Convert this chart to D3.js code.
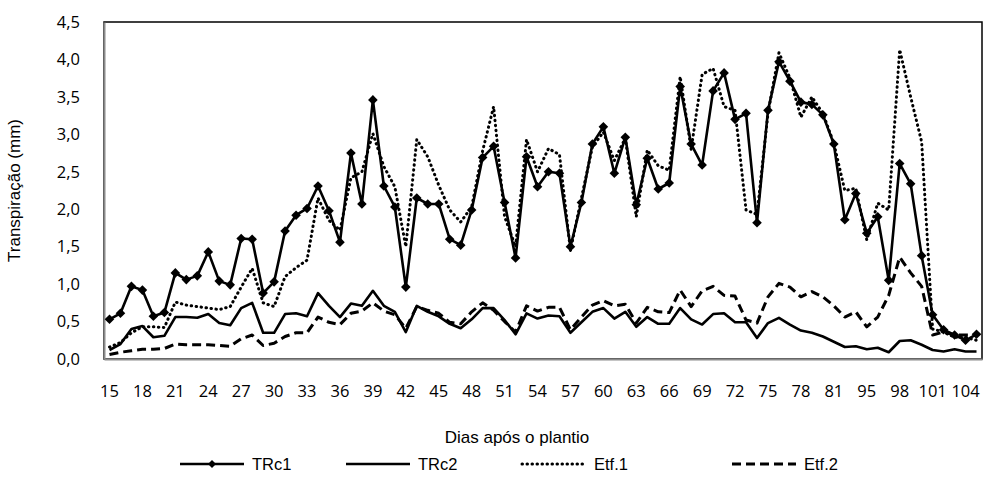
<!DOCTYPE html>
<html>
<head>
<meta charset="utf-8">
<script src="https://cdn.jsdelivr.net/npm/d3@7"></script>
<style>
  body { margin: 0; background: #fff; }
  svg { display: block; }
  .tick text { font-family: "Open Sans", Carlito, Calibri, sans-serif; font-size: 16.5px; fill: #000; }
  .ttl { font-family: "Liberation Sans", Arial, sans-serif; font-size: 17px; fill: #000; }
  .leg { font-family: "Liberation Sans", Arial, sans-serif; font-size: 16.5px; fill: #000; }
</style>
</head>
<body>
<svg width="983" height="482"></svg>
<script>
// dias apos o plantio (eixo de categorias)
const days = [15,16,17,18,19,20,21,22,23,24,25,26,27,28,29,30,31,32,33,34,35,36,37,38,39,40,
  41,42,43,44,45,46,47,48,49,50,51,52,53,54,55,56,57,58,59,60,61,62,63,64,65,66,67,68,69,70,
  71,72,73,74,75,76,77,78,79,80,81,84,89,95,96,97,98,99,100,101,102,103,104,105]

const trc1 = [0.53,0.61,0.97,0.92,0.57,0.62,1.15,1.06,1.11,1.43,1.04,0.99,1.61,1.60,0.88,1.03,
  1.71,1.92,2.01,2.31,1.98,1.56,2.75,2.07,3.46,2.31,2.03,0.96,2.15,2.07,2.07,1.60,1.52,1.99,
  2.69,2.84,2.09,1.35,2.70,2.30,2.50,2.48,1.50,2.09,2.87,3.10,2.48,2.96,2.06,2.68,2.27,2.35,
  3.64,2.87,2.59,3.58,3.82,3.20,3.28,1.82,3.32,3.97,3.71,3.43,3.40,3.26,2.87,1.86,2.21,1.68,
  1.90,1.05,2.61,2.34,1.38,0.59,0.39,0.32,0.25,0.33]

const trc2 = [0.12,0.20,0.40,0.44,0.29,0.31,0.56,0.56,0.55,0.60,0.48,0.45,0.68,0.75,0.35,0.35,
  0.60,0.61,0.57,0.88,0.71,0.56,0.74,0.71,0.91,0.71,0.63,0.36,0.71,0.63,0.57,0.47,0.41,0.53,
  0.68,0.68,0.52,0.33,0.61,0.54,0.58,0.57,0.35,0.49,0.63,0.68,0.54,0.63,0.43,0.56,0.47,0.47,
  0.68,0.53,0.46,0.60,0.61,0.49,0.49,0.28,0.48,0.55,0.46,0.38,0.35,0.30,0.23,0.16,0.17,0.13,
  0.15,0.09,0.24,0.25,0.19,0.12,0.10,0.13,0.10,0.10]

const etf1 = [0.16,0.22,0.35,0.43,0.43,0.42,0.76,0.72,0.70,0.68,0.66,0.70,0.96,1.21,0.75,0.70,
  1.10,1.22,1.32,2.15,1.85,1.72,2.42,2.50,3.01,2.57,2.30,1.50,2.93,2.70,2.32,1.99,1.83,2.03,
  2.78,3.37,1.90,1.50,2.93,2.50,2.81,2.73,1.45,2.15,2.83,3.03,2.65,2.95,1.90,2.79,2.58,2.52,
  3.77,2.80,3.80,3.88,3.37,3.32,1.99,1.93,3.28,4.09,3.75,3.23,3.50,3.28,2.88,2.25,2.28,1.59,
  2.08,1.99,4.13,3.50,2.90,0.40,0.36,0.29,0.29,0.25]

const etf2 = [0.06,0.09,0.11,0.13,0.13,0.14,0.20,0.19,0.19,0.19,0.18,0.17,0.27,0.32,0.18,0.21,
  0.30,0.35,0.35,0.56,0.49,0.46,0.61,0.64,0.75,0.64,0.59,0.41,0.70,0.65,0.61,0.49,0.47,0.63,
  0.75,0.65,0.50,0.36,0.71,0.64,0.69,0.69,0.39,0.56,0.72,0.78,0.71,0.73,0.48,0.69,0.63,0.62,
  0.92,0.70,0.91,0.97,0.85,0.84,0.52,0.48,0.83,1.01,0.96,0.83,0.90,0.83,0.71,0.56,0.63,0.43,
  0.56,0.85,1.36,1.15,0.97,0.32,0.36,0.32,0.32,0.32]

const yTicks = [0,0.5,1,1.5,2,2.5,3,3.5,4,4.5]
const seriesNames = ["TRc1","TRc2","Etf.1","Etf.2"]

const svg = d3.select("svg")
const pL = 104, pR = 982, pT = 22, pB = 359

const x = d3.scaleBand().domain(d3.range(days.length)).range([pL, pR]).padding(0)
const y = d3.scaleLinear().domain([0, 4.5]).range([pB, pT])
const cx = i => x(i) + x.bandwidth() / 2

// borda da area de plotagem
svg.append("rect")
  .attr("x", pL).attr("y", pT)
  .attr("width", pR - pL).attr("height", pB - pT)
  .attr("fill", "none").attr("stroke", "#000").attr("stroke-width", 1.5)

// eixos
const yAxis = d3.axisLeft(y).tickValues(yTicks).tickSize(0).tickPadding(24)
  .tickFormat(d => d3.format(".1f")(d).replace(".", ","))
svg.append("g").attr("transform", "translate(" + pL + ",0)").call(yAxis)
  .call(g => g.select(".domain").attr("stroke", "#8c8c8c").attr("stroke-width", 2))

const xAxis = d3.axisBottom(x).tickValues(d3.range(0, days.length, 3)).tickSize(0).tickPadding(26)
  .tickFormat(i => days[i])
svg.append("g").attr("transform", "translate(0," + pB + ")").call(xAxis)
  .call(g => g.select(".domain").attr("stroke", "#8c8c8c").attr("stroke-width", 2))

// linhas
const line = d3.line().x((d, i) => cx(i)).y(d => y(d))
const styles = [
  { data: trc2, dash: null, w: 2.6 },
  { data: etf2, dash: "9 5", w: 3 },
  { data: etf1, dash: "0.5 4.5", w: 3 },
  { data: trc1, dash: null, w: 2.6 }
]
styles.forEach(s => {
  svg.append("path").datum(s.data)
    .attr("d", line)
    .attr("fill", "none").attr("stroke", "#000")
    .attr("stroke-width", s.w)
    .attr("stroke-linecap", s.dash && s.dash.startsWith("0.5") ? "round" : "butt")
    .attr("stroke-linejoin", "round")
    .attr("stroke-dasharray", s.dash)
})

const diamond = r => "M0," + (-r) + "L" + r + ",0L0," + r + "L" + (-r) + ",0Z"
svg.append("g").selectAll("path").data(trc1).enter().append("path")
  .attr("d", diamond(4.8))
  .attr("transform", (d, i) => "translate(" + cx(i) + "," + y(d) + ")")
  .attr("fill", "#000")

// titulos
svg.append("text").attr("class", "ttl")
  .attr("transform", "translate(20," + ((pT + pB) / 2) + ") rotate(-90)")
  .attr("text-anchor", "middle").text("Transpiração (mm)")
svg.append("text").attr("class", "ttl")
  .attr("x", 517).attr("y", 443)
  .attr("text-anchor", "middle").text("Dias após o plantio")

// legenda
const legX = [180, 346, 522, 732]
const leg = svg.append("g").attr("transform", "translate(0,470)")
seriesNames.forEach((name, k) => {
  const x0 = legX[k]
  const st = [styles[3], styles[0], styles[2], styles[1]][k]
  leg.append("line").attr("x1", x0).attr("x2", x0 + 64).attr("y1", -6).attr("y2", -6)
    .attr("stroke", "#000").attr("stroke-width", st.w)
    .attr("stroke-linecap", st.dash && st.dash.startsWith("0.5") ? "round" : "butt")
    .attr("stroke-dasharray", st.dash)
  if (k === 0) {
    leg.append("path").attr("d", diamond(4))
      .attr("transform", "translate(" + (x0 + 32) + ",-6)").attr("fill", "#000")
  }
  leg.append("text").attr("class", "leg").attr("x", x0 + 72).attr("y", 0).text(name)
})
</script>
</body>
</html>
